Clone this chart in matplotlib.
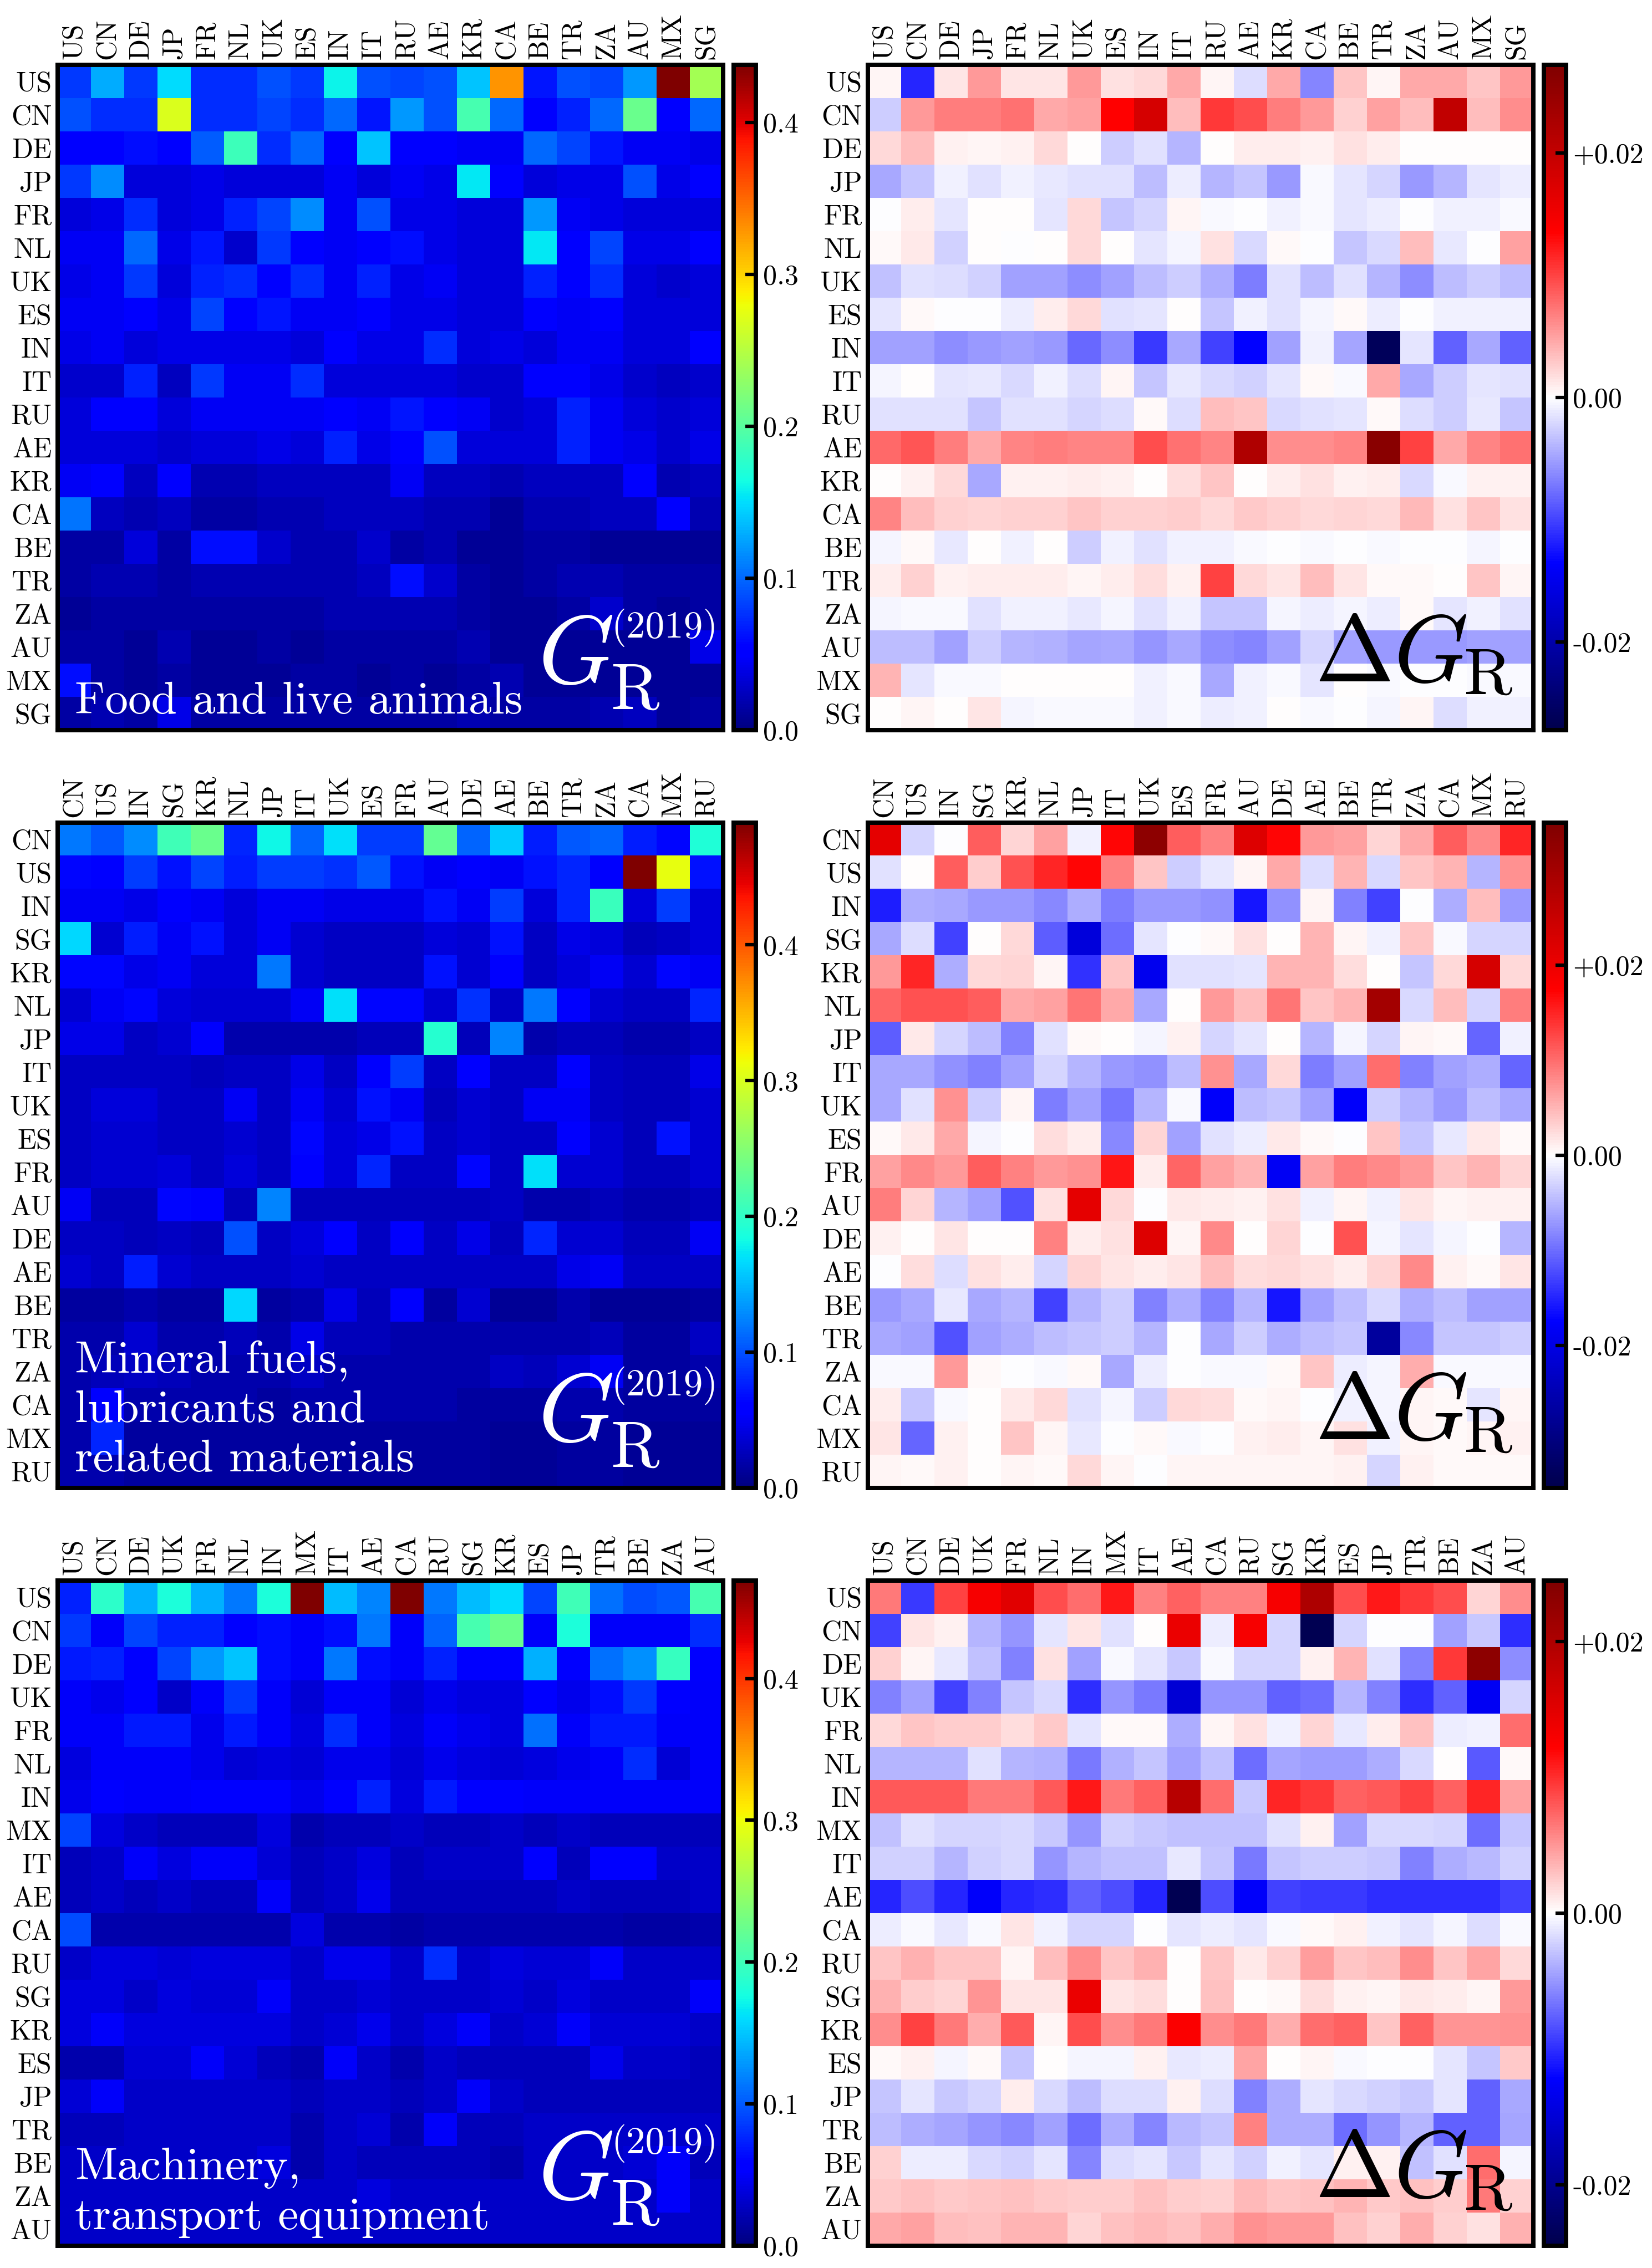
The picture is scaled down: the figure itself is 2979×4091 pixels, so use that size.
import numpy as np
import matplotlib
matplotlib.use('Agg')
import matplotlib.pyplot as plt

plt.rcParams['font.family'] = ['cmr10', 'DejaVu Serif']
plt.rcParams['mathtext.fontset'] = 'cm'
plt.rcParams['axes.unicode_minus'] = False

labels1 = "US CN DE JP FR NL UK ES IN IT RU AE KR CA BE TR ZA AU MX SG".split()
labels2 = "CN US IN SG KR NL JP IT UK ES FR AU DE AE BE TR ZA CA MX RU".split()
labels3 = "US CN DE UK FR NL IN MX IT AE CA RU SG KR ES JP TR BE ZA AU".split()
titles = ["Food and live animals", "Mineral fuels,\nlubricants and\nrelated materials", "Machinery,\ntransport equipment"]
vmax_G = [0.438, 0.49, 0.469]
vmax_D = [0.0272, 0.035, 0.0245]

G1 = [
[.08,.13,.08,.15,.075,.075,.09,.08,.16,.09,.085,.09,.14,.33,.065,.09,.085,.12,.44,.24],
[.09,.075,.075,.27,.075,.075,.085,.075,.10,.065,.12,.09,.19,.10,.055,.07,.10,.21,.05,.10],
[.05,.05,.06,.05,.095,.185,.075,.10,.055,.14,.05,.05,.045,.045,.10,.085,.065,.045,.045,.04],
[.08,.115,.035,.035,.04,.035,.035,.035,.045,.035,.045,.04,.155,.055,.035,.04,.04,.09,.04,.055],
[.035,.04,.075,.035,.04,.07,.085,.115,.045,.09,.04,.04,.035,.035,.12,.045,.04,.035,.035,.035],
[.045,.045,.10,.04,.065,.03,.08,.055,.045,.05,.06,.04,.035,.035,.155,.05,.085,.04,.04,.05],
[.04,.045,.08,.035,.07,.075,.055,.075,.045,.07,.04,.045,.035,.035,.07,.05,.075,.035,.03,.035],
[.045,.045,.055,.04,.085,.05,.065,.045,.045,.055,.04,.04,.035,.035,.05,.045,.05,.035,.035,.035],
[.04,.045,.035,.04,.04,.04,.04,.035,.055,.04,.04,.075,.035,.04,.035,.045,.045,.035,.035,.05],
[.03,.03,.07,.025,.08,.045,.045,.075,.035,.035,.035,.035,.03,.03,.05,.05,.04,.03,.025,.03],
[.035,.05,.05,.035,.045,.045,.045,.045,.05,.045,.065,.055,.045,.03,.035,.07,.045,.035,.03,.035],
[.035,.035,.035,.03,.035,.035,.04,.035,.07,.04,.05,.09,.035,.035,.035,.07,.045,.04,.03,.04],
[.045,.055,.025,.05,.02,.02,.025,.025,.025,.025,.045,.025,.025,.02,.025,.025,.025,.05,.02,.025],
[.105,.025,.02,.025,.015,.015,.02,.02,.025,.025,.025,.02,.02,.01,.02,.02,.025,.025,.05,.02],
[.015,.015,.035,.015,.06,.06,.03,.02,.02,.03,.015,.02,.01,.01,.015,.015,.01,.01,.01,.01],
[.015,.02,.02,.015,.02,.02,.02,.02,.02,.025,.06,.03,.015,.01,.015,.02,.02,.015,.015,.015],
[.01,.015,.015,.015,.015,.015,.015,.015,.02,.02,.02,.02,.015,.01,.01,.015,.03,.015,.01,.015],
[.015,.015,.01,.02,.01,.01,.015,.01,.015,.015,.015,.015,.02,.01,.01,.01,.01,.01,.01,.04],
[.06,.015,.01,.015,.01,.01,.01,.015,.015,.01,.015,.01,.015,.02,.01,.01,.01,.01,.01,.01],
[.015,.02,.015,.04,.015,.015,.015,.015,.015,.015,.015,.015,.02,.015,.015,.015,.02,.025,.01,.015],
]
D1 = [
[.5,-11.5,1.4,5.5,1.4,1.4,5.5,1.5,2,4.5,.5,-1.8,4.5,-6.5,3,.5,4.5,4.5,3,5.5],
[-2.7,5.5,7,7,7.5,4.5,5,13.5,18,3.5,10.5,9.5,7,5.5,2.5,5,3.5,20,3.5,6],
[2,3.5,.8,.5,.8,2,0,-2.7,-1.5,-4,0,1,1,.7,1.5,1,0,0,0,0],
[-4.5,-3,-.8,-1.5,-.8,-1.2,-1.5,-1.5,-3.5,-1,-4,-3,-5.5,-.3,-1.3,-2.2,-5.5,-4,-1.3,-1],
[-.2,1,-1.3,0,.2,-1.3,2,-3,-2.2,.5,-.4,-.1,-.8,-.4,-1.4,-.9,-.1,-.8,-.8,-.3],
[.3,1.2,-2.5,0,-.2,0,2,0,-1.3,-.5,1.5,-2,.3,-.2,-3,-2,3.5,-1.2,-.2,5],
[-3.2,-1.5,-1.8,-2.5,-5,-5,-6,-5,-3.5,-2.7,-4.3,-7,-1.5,-3.5,-1.5,-4,-6,-3.5,-2.7,-3.5],
[-1.3,.4,-.2,-.1,-1,1,2,-1.5,-1.3,0,-3,-.8,-1.5,-.6,.4,-1,-.1,-.8,-.8,-.8],
[-5,-5,-6,-5.5,-5,-5.5,-8,-6,-10.5,-4.5,-10,-13.5,-5,-.7,-4.8,-26,-1.3,-8.5,-4.5,-8.5],
[-.6,0,-1.3,-1.2,-2,-.8,-1.8,.5,-3,-1.1,-2,-2.4,-1.3,.4,-.3,4.5,-4.5,-2.7,-1.3,-1.5],
[-1.6,-1.6,-1.6,-3,-1.5,-1.6,-2.2,-1.8,.4,-1.8,3.5,3,-2,-1.6,-1.4,.4,-1.8,-2.7,-1.1,-3],
[8,9,7,4.5,6.5,7,6.5,6.5,9.5,7.5,6.5,22,6,6,6.5,26,10,4.5,6.5,7.5],
[0,.8,2,-4.5,.8,.8,1,.7,0,1.7,3,0,1,1.6,.8,1,-2,-.4,.7,.8],
[6.5,3.5,2.5,2.3,2.4,2.4,3,2.5,2.4,2.7,2,2.8,2.5,2,2.3,2,3.7,1.6,3,1.6],
[-.6,.3,-1.2,0,-.8,0,-2.7,-.8,-1.5,-.7,-.7,-.4,-.1,-.3,-.2,-.4,-.1,-.2,-.6,-.2],
[.9,2.5,.8,1,1,1,.6,.9,1.9,.8,10,2,1.3,3.5,1.3,.4,.4,0,3,.5],
[-.6,-.4,-.4,-1.5,-.8,-.8,-1.2,-.6,-1.7,-.8,-3,-3,-.6,-.9,-.6,-1,.4,-1.3,-.8,-1.5],
[-3.5,-3.5,-5,-2.7,-4,-4.2,-4.7,-4.5,-5.7,-4.5,-6,-6.5,-5,-2.2,-5,-5.5,-5.5,-5.5,-5,-5],
[4,-1.3,-.4,-.3,0,0,0,0,-.7,-.3,-4.5,-.8,-.4,-1.3,0,-.4,-.1,-.2,-.3,-.4],
[.1,.6,0,1.4,-.6,-.4,-.4,-.4,-.8,-.3,-1,-.7,.2,-.3,-.1,-.6,.5,-1.8,-.7,-.7],
]
G2 = [
[.12,.105,.13,.21,.235,.08,.18,.11,.17,.09,.09,.23,.11,.16,.075,.105,.11,.075,.065,.19],
[.065,.06,.09,.07,.095,.075,.09,.09,.085,.105,.07,.05,.06,.05,.07,.08,.055,.49,.31,.07],
[.05,.05,.045,.06,.05,.04,.05,.05,.045,.045,.045,.07,.05,.09,.04,.08,.205,.04,.09,.04],
[.165,.035,.075,.05,.07,.04,.05,.035,.03,.03,.03,.04,.035,.07,.03,.045,.04,.025,.03,.04],
[.065,.065,.045,.05,.04,.04,.12,.035,.03,.03,.03,.07,.035,.06,.03,.04,.05,.035,.065,.05],
[.035,.05,.065,.04,.035,.035,.035,.05,.17,.065,.065,.035,.085,.03,.12,.06,.035,.03,.03,.08],
[.045,.045,.03,.035,.055,.02,.02,.02,.02,.025,.025,.195,.025,.125,.02,.025,.025,.02,.02,.03],
[.03,.03,.03,.03,.025,.03,.03,.045,.03,.055,.09,.03,.06,.03,.03,.06,.03,.025,.025,.045],
[.03,.04,.04,.03,.03,.05,.03,.05,.035,.07,.05,.025,.035,.03,.05,.05,.03,.025,.025,.035],
[.03,.035,.035,.03,.03,.035,.03,.065,.04,.045,.07,.03,.035,.03,.03,.055,.035,.025,.07,.035],
[.03,.035,.035,.04,.03,.04,.03,.06,.04,.08,.03,.03,.065,.03,.17,.035,.035,.025,.025,.035],
[.05,.025,.025,.065,.055,.025,.125,.025,.025,.025,.025,.025,.025,.03,.02,.02,.025,.02,.02,.025],
[.03,.03,.025,.03,.025,.10,.03,.04,.06,.03,.055,.03,.045,.025,.08,.035,.035,.025,.025,.05],
[.035,.03,.075,.035,.03,.03,.03,.035,.03,.03,.03,.03,.03,.03,.03,.045,.05,.03,.03,.03],
[.015,.015,.02,.015,.015,.165,.015,.02,.045,.025,.055,.015,.035,.01,.01,.02,.01,.01,.01,.015],
[.02,.02,.035,.02,.02,.025,.02,.045,.025,.025,.02,.02,.02,.02,.02,.02,.025,.015,.015,.03],
[.02,.025,.03,.025,.02,.02,.02,.03,.02,.02,.02,.02,.02,.03,.025,.035,.05,.015,.015,.02],
[.02,.06,.02,.02,.02,.02,.015,.02,.02,.02,.02,.02,.015,.015,.015,.02,.02,.015,.015,.015],
[.02,.08,.015,.015,.015,.015,.015,.015,.015,.015,.015,.015,.015,.01,.01,.015,.015,.01,.01,.01],
[.02,.02,.015,.015,.015,.015,.015,.015,.015,.015,.015,.015,.015,.01,.01,.015,.015,.01,.01,.01],
]
D2 = [
[21,-2.8,-.2,11,3,6.5,-1,17,33,11,8.5,22,17,7,6.5,3,6,11,8,15],
[-2,0,11,3.5,12,15,17,8.5,4,-3.5,-1.5,.8,6,-2.2,5,-2.5,4,5,-5,7.5],
[-15.5,-5.5,-6,-7,-7,-8,-5.5,-9,-7,-7,-7.5,-16,-7.5,.8,-8.5,-13,-.2,-5.5,4.5,-7],
[-6,-2.2,-13,0,2.5,-11,-21,-10,-1.7,-.1,.4,2,0,5,.6,-1,4,-.5,-3,-3],
[7,15,-5.5,2.5,2.8,.8,-14,4,-19,-2,-2,-1.8,5,5,2.2,0,-4,2.5,23,2.5],
[10.5,12,12,11,6,6.5,9.5,6,-6,0,7,4.5,9.5,4,5,30,-2.5,4.5,-3,9],
[-11,1.5,-3,-4.5,-8.5,-2,.5,0,-.8,1,-3,-1.8,0,-5,-.8,-3,.7,.3,-10.5,-1],
[-6,-6,-7.5,-8.5,-6.5,-3,-5,-7,-7.5,-4.5,7.5,-6,2.5,-9,-6.5,10,-8.5,-6.5,-5.5,-10.5],
[-6,-2,7.5,-3.5,.7,-9,-6.5,-9.5,-5,-.3,-18,-4.5,-4,-6.5,-18,-3.5,-5,-7,-4.5,-6],
[.3,1.5,6,-.7,-.1,2.2,1.3,-8,3,-6.5,-2,-1.2,1.5,.4,-.1,4,-4,-1.6,1.5,.4],
[6.5,8,7,11,8.5,7,7.5,16,1.3,10.5,6.5,5,-18.5,6.5,9,8,7,4,5,3],
[9,3,-5,-6.5,-12,2,21,2.5,-.1,1.5,1.2,1,2,-.9,.6,-1,1.7,.7,1,1],
[1,0,1.8,0,0,8.5,1.3,2,22,.8,8,0,3,-.1,12,-.7,-1.8,-.8,-.2,-5],
[-.1,2.2,-2.2,2,1.2,-2.8,3,1.8,1.2,1.8,4.5,2.3,2.6,2,1.2,3,8,.9,.4,1.7],
[-7,-6,-1.5,-6,-5,-13,-5,-3.5,-8.5,-5.5,-8.5,-5,-16,-6.5,-4.5,-2.5,-5.5,-4.5,-6.5,-6.5],
[-6,-6.5,-12,-6.5,-5.5,-4.5,-4,-3.5,-5,-.1,-6,-3.5,-5.5,-4.5,-4,-27,-8,-4,-4,-3.5],
[-.5,-.5,7,.4,-.2,-.5,.4,-6,-1.2,-.1,-.4,-.3,.3,4,-1.3,-.7,5.5,-.3,-.3,-.3],
[1.3,-4,-.4,0,1.5,2.6,-2,-.8,-3.5,2.5,2.2,.4,.7,-.1,-1,-.7,.7,.3,-1.8,.7],
[1.8,-10.5,.9,0,4,.7,-1.5,-.1,.5,-.4,-.1,1,1.3,.7,2,-1,.8,.5,.6,1],
[.7,.4,1,0,.8,.5,2.5,.8,-.1,.8,.6,.6,.6,.6,.9,-2.8,.9,.4,.4,.5],
]
G3 = [
[.075,.19,.14,.18,.14,.115,.18,.47,.145,.12,.47,.115,.145,.16,.09,.20,.11,.095,.10,.205],
[.085,.05,.09,.075,.075,.06,.065,.05,.065,.115,.05,.105,.205,.225,.05,.18,.05,.05,.05,.08],
[.07,.075,.06,.09,.13,.15,.065,.05,.115,.065,.05,.075,.055,.055,.14,.055,.11,.125,.195,.055],
[.05,.045,.055,.03,.05,.085,.05,.035,.05,.05,.035,.045,.04,.04,.06,.045,.065,.085,.055,.05],
[.05,.05,.07,.07,.045,.07,.05,.04,.08,.05,.04,.05,.045,.04,.11,.05,.07,.07,.05,.05],
[.04,.05,.05,.05,.045,.035,.04,.035,.045,.045,.035,.045,.04,.035,.04,.045,.05,.08,.035,.05],
[.045,.055,.05,.05,.055,.055,.055,.045,.055,.075,.04,.07,.055,.055,.05,.05,.05,.05,.05,.05],
[.09,.04,.03,.025,.025,.025,.04,.02,.025,.025,.03,.025,.025,.03,.025,.03,.025,.025,.025,.025],
[.025,.03,.05,.04,.05,.05,.035,.025,.03,.04,.025,.03,.03,.03,.055,.025,.055,.055,.03,.03],
[.025,.03,.025,.03,.025,.025,.05,.025,.03,.045,.025,.025,.025,.025,.025,.03,.025,.025,.025,.03],
[.095,.02,.02,.02,.02,.02,.02,.04,.02,.02,.015,.02,.02,.02,.02,.02,.02,.015,.015,.02],
[.03,.04,.04,.035,.04,.04,.04,.03,.045,.045,.03,.08,.03,.04,.035,.035,.05,.03,.03,.03],
[.04,.04,.03,.04,.035,.035,.05,.03,.03,.035,.03,.03,.03,.035,.03,.04,.03,.03,.03,.05],
[.04,.05,.04,.04,.04,.04,.04,.03,.035,.045,.03,.04,.05,.03,.035,.05,.035,.035,.035,.03],
[.02,.02,.035,.035,.05,.035,.025,.02,.05,.03,.02,.03,.025,.025,.025,.025,.045,.03,.03,.025],
[.035,.05,.03,.03,.03,.03,.03,.025,.03,.03,.025,.03,.05,.03,.025,.025,.025,.025,.025,.025],
[.025,.025,.03,.03,.03,.03,.03,.02,.03,.035,.02,.05,.025,.025,.03,.03,.03,.03,.03,.03],
[.03,.03,.03,.03,.03,.03,.04,.02,.03,.025,.025,.025,.025,.02,.03,.03,.03,.035,.05,.025],
[.03,.03,.03,.03,.03,.03,.03,.03,.03,.04,.03,.03,.03,.03,.03,.03,.03,.03,.05,.03],
[.03,.03,.03,.03,.03,.03,.03,.03,.03,.03,.03,.03,.03,.03,.03,.03,.03,.03,.03,.03],
]
D3 = [
[6.5,-9.5,9,13,15,8.5,7,11,6,7.5,6,6,13,20,8.5,11,9.5,8.5,2,5.5],
[-9,1.2,.6,-3.5,-5,-1.3,1.3,-1.5,0,14,-.8,13,-2,-24,-2,-.1,-.1,-4.5,-2.5,-10],
[2.2,.5,-1,-3,-6,1.5,-4.5,-.3,-1.2,-2.5,-.3,-2,-2,.7,3.5,-1.5,-6,9.5,23,-5.5],
[-6,-4.5,-9,-6,-2.7,-1.8,-10,-5,-6.5,-15,-5,-5,-7.5,-7,-3.5,-6,-10,-7.5,-13,-2],
[1.8,2.7,2.4,2.4,1.6,2.5,-1.3,.3,.2,-4,.4,1.5,-.6,2,-1,.8,3,-.9,-.7,7],
[-3.5,-3.5,-3.5,-1.5,-3.5,-3.7,-6.5,-3.7,-2.7,-4.5,-3,-7,-4.3,-4.7,-4.7,-4,-1.8,0,-8,.2],
[8,8,8,6.5,6.5,8,11,6.5,7.5,19,7,-2.5,10.5,9.5,7.5,8,9,7.5,10.5,4.5],
[-3,-1.4,-2,-2,-1.8,-2.5,-5,-2.2,-2.5,-3,-3,-3,-1.5,.7,-4.5,-1.8,-1.9,-2,-7,-2.7],
[-2.2,-2.2,-3.5,-2.2,-1.8,-5,-3.5,-3,-3,-1,-2.8,-6.5,-2.8,-2.3,-2.4,-2.5,-6,-4,-3.3,-2.2],
[-10.5,-8.5,-10.5,-12.5,-10.5,-10,-7.5,-8.5,-10.5,-24,-8.5,-12.5,-9,-9.5,-9.5,-10,-10,-10,-10,-9],
[-.8,-.3,-1,-.2,1.3,-.6,-2,-2,-.1,-1.2,-.8,-1.2,-.3,.2,.6,-.6,-1.2,-.5,-1.6,-.3],
[2.8,3.8,2.8,2.8,.5,3.2,5.5,2.8,3.8,0,2.8,1,2.2,4.7,2.7,3.2,5.5,2.7,4.3,1.9],
[3.7,2.4,2,5,1.2,1.3,14,1.2,1.6,0,3,0,.2,1.6,.6,.4,1.1,.9,.4,4.8],
[5.5,9,6.5,4,8,.4,8.5,5.5,6.5,12.5,5.5,6.5,4,7,7.5,2.8,7.5,5,5,5.2],
[.2,.7,-.5,.3,-2.7,0,-.5,-.5,.6,-1,-.9,4.3,0,.4,-.3,-.1,-.1,-1.3,-2.8,2.6],
[-2.7,-1.2,-2.5,-2,.9,-1.8,-3.2,-1.6,-1.6,.6,-1.7,-6,-4,-1.2,-1.9,-2.2,-2.5,-1.3,-7.5,-4.2],
[-3.2,-4,-4.3,-5,-5.7,-4.5,-7,-4,-5.8,-3.4,-2.8,6,-4,-4,-7,-5,-3.5,-7.5,-7.5,-4.3],
[2.2,-.8,-.8,-1.8,-2.2,-1.2,-5.8,-1.7,-1.2,-2.5,-1.2,-2.2,-.7,-1.2,.6,.7,-3,-1.5,7,-.5],
[2.5,3,2.5,2.7,3,2.5,2.3,2.3,3,2.4,2.2,3.3,2.7,3,3.6,2.6,3,2.4,6.5,2.2],
[4.2,4.5,3.2,2.9,3.5,3.5,2.1,3,3.3,3,4,5.2,4.8,4.8,3,2.2,4,2.2,1.4,3.8],
]

W, H, DPI = 2979, 4091, 300
fig = plt.figure(figsize=(W / DPI, H / DPI), dpi=DPI)
LW = 1.9
FS = 12

def box(x0, y0, x1, y1):
    return [x0 / W, 1 - y1 / H, (x1 - x0) / W, (y1 - y0) / H]

def heat(x0, y0, data, labels, cmap, vmin, vmax, ticks, ticklabels, cx0):
    y1 = y0 + 1200
    ax = fig.add_axes(box(x0, y0, x0 + 1200, y1))
    im = ax.imshow(np.array(data), cmap=cmap, vmin=vmin, vmax=vmax,
                   interpolation='nearest', aspect='auto')
    ax.set_xticks(range(20), labels, rotation=90, fontsize=FS)
    ax.set_yticks(range(20), labels, fontsize=FS)
    ax.xaxis.tick_top()
    ax.tick_params(length=0, pad=2.5)
    for s in ax.spines.values():
        s.set_linewidth(LW)
    cax = fig.add_axes(box(cx0, y0, cx0 + 40, y1))
    cb = fig.colorbar(im, cax=cax)
    cb.set_ticks(ticks, labels=ticklabels)
    cax.tick_params(direction='in', length=4.5, width=1.5, labelsize=FS, pad=3, right=True)
    cb.outline.set_linewidth(LW)
    return ax

tops = [117, 1484, 2851]
Gs = [G1, G2, G3]
Ds = [D1, D2, D3]
labs = [labels1, labels2, labels3]
for i in range(3):
    Gi, Di = np.array(Gs[i]), np.array(Ds[i]) * 1e-3
    ax = heat(104, tops[i], Gi, labs[i], 'jet', 0, vmax_G[i],
              [0, .1, .2, .3, .4], ['0.0', '0.1', '0.2', '0.3', '0.4'], 1323)
    ax.text(0.026, 0.012, titles[i], transform=ax.transAxes, color='white',
            fontsize=20, ha='left', va='bottom', linespacing=1.27)
    ax.text(0.722, 0.071, r'$G$', transform=ax.transAxes, color='white',
            fontsize=42, ha='left', va='baseline')
    ax.text(0.832, 0.032, 'R', transform=ax.transAxes, color='white',
            fontsize=28.5, ha='left', va='baseline')
    ax.text(0.832, 0.139, '(2019)', transform=ax.transAxes, color='white',
            fontsize=16.6, ha='left', va='baseline')
    ax = heat(1565, tops[i], Di, labs[i], 'seismic', -vmax_D[i], vmax_D[i],
              [-.02, 0, .02], ['-0.02', '0.00', '+0.02'], 2784)
    ax.text(0.672, 0.073, r'$\Delta G$', transform=ax.transAxes, color='black',
            fontsize=41, ha='left', va='baseline')
    ax.text(0.896, 0.054, 'R', transform=ax.transAxes, color='black',
            fontsize=28.5, ha='left', va='baseline')

fig.savefig('out.png', dpi=DPI, facecolor='white')
